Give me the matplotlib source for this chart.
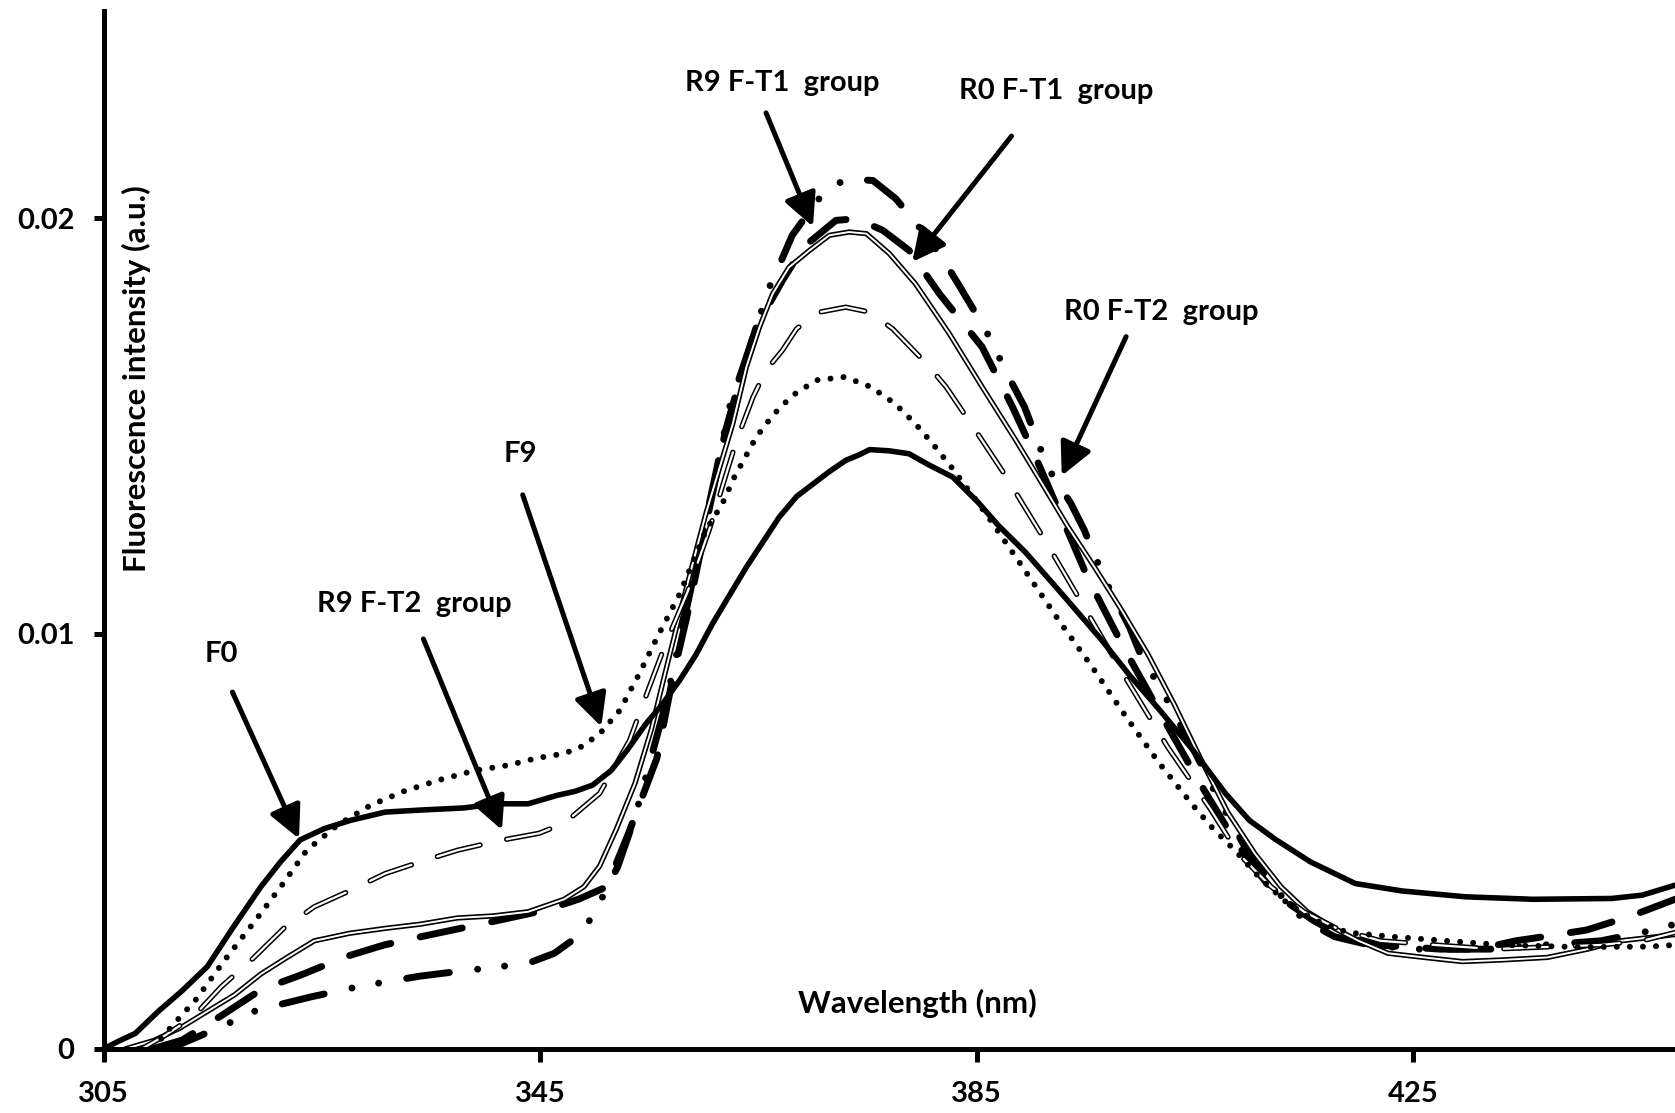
import matplotlib
matplotlib.use("Agg")
import matplotlib.pyplot as plt

plt.rcParams["font.family"] = ["Lato", "DejaVu Sans"]
plt.rcParams["font.weight"] = "bold"
plt.rcParams["lines.scale_dashes"] = False

# wavelength (nm) / intensity (a.u.)
f0_x = [305, 306.5, 307.9, 310, 312.2, 314.5, 316.8, 319.4, 321.2, 323, 325.2, 327.6, 330.8, 334.1,
        338, 341, 343.9, 346.5, 348.2, 349.8, 351.5, 353, 354.7, 356.2, 357.8, 359.3, 360.8, 362.3,
        363.9, 365.4, 366.9, 368.5, 370, 371.5, 373, 374.2, 375.2, 377, 378.8, 380.7, 382.8, 385.1,
        387, 389.5, 393, 396.5, 399, 401.7, 404.8, 407.8, 410, 412.4, 415.6, 419.7, 424, 429.8, 436,
        443.2, 446, 449]
f0_y = [0.0, 0.0002, 0.00037, 0.0009, 0.0014, 0.00198, 0.0029, 0.0039, 0.0045, 0.00503, 0.0053,
        0.0055, 0.0057, 0.00575, 0.0058, 0.0059, 0.0059, 0.0061, 0.0062, 0.00635, 0.0067, 0.0072,
        0.00783, 0.0083, 0.00888, 0.0095, 0.01024, 0.0109, 0.0116, 0.0122, 0.0128, 0.0133, 0.0136,
        0.0139, 0.01417, 0.0143, 0.01443, 0.0144, 0.01433, 0.01405, 0.01377, 0.01317, 0.0126,
        0.01195, 0.0109, 0.00983, 0.0090, 0.00818, 0.0072, 0.00615, 0.0055, 0.00504, 0.0045,
        0.00398, 0.0038, 0.00366, 0.0036, 0.00362, 0.0037, 0.00394]

f9_x = [309.5, 311.2, 313.5, 316.1, 319.4, 321.5, 323.6, 326.5, 329.5, 332.5, 335.7, 339, 342.1,
        344.7, 347.2, 349, 350.6, 352.3, 354.1, 355.9, 357.8, 360.2, 361.7, 362.8, 364.8, 366.3,
        368.1, 370.3, 372.9, 375.3, 377.5, 379.4, 381.1, 382.8, 385.9, 389.5, 392.6, 395.6, 398.7,
        401.7, 404.8, 406.6, 408.7, 411, 413.5, 416, 419, 423, 428, 433.2, 440, 446.6, 449]
f9_y = [0.0, 0.00053, 0.0012, 0.00214, 0.00326, 0.0040, 0.00478, 0.0054, 0.00587, 0.0062,
        0.00647, 0.0067, 0.00683, 0.0070, 0.00711, 0.0073, 0.00763, 0.00815, 0.00904, 0.0100,
        0.01096, 0.01249, 0.01313, 0.01377, 0.01473, 0.01525, 0.01573, 0.0161, 0.01618, 0.01594,
        0.01554, 0.01505, 0.01453, 0.01397, 0.01287, 0.01149, 0.01029, 0.00919, 0.00799, 0.00689,
        0.00587, 0.00532, 0.00477, 0.0041, 0.0035, 0.0031, 0.0028, 0.0027, 0.0026, 0.0025, 0.00245,
        0.00246, 0.0025]

r9t2_x = [308.5, 310.5, 313.2, 315.8, 318.7, 321.5, 324.3, 327.5, 330.8, 334, 337.4, 341, 344.9,
          347.2, 350.45, 353.2, 354.1, 356.5, 358.5, 360.5, 362, 363, 364.5, 365.7, 367.2, 368.5,
          370.6, 373, 375.2, 377.3, 380.4, 382.2, 384.9, 387.5, 391.3, 395, 398.7, 402.5, 406.4, 409,
          412, 415, 418, 422, 427, 432.4, 437, 442.2, 446, 449]
r9t2_y = [0.0, 0.0003, 0.00077, 0.0015, 0.00218, 0.0029, 0.00342, 0.0038, 0.00422, 0.0045,
          0.00478, 0.0050, 0.00519, 0.00543, 0.00615, 0.00743, 0.00808, 0.00976, 0.0110, 0.0125,
          0.0138, 0.01465, 0.01569, 0.01634, 0.01682, 0.01734, 0.01774, 0.01786, 0.01774, 0.01734,
          0.0165, 0.01594, 0.01489, 0.01386, 0.01223, 0.01057, 0.00891, 0.00727, 0.00578, 0.0047,
          0.0039, 0.0033, 0.0029, 0.0026, 0.0025, 0.0024, 0.00245, 0.0025, 0.0026, 0.0028]

r9t1_x = [307, 309.6, 312, 314.5, 317, 319.4, 321.8, 324.3, 327.5, 330.8, 334, 337.4, 340.7, 343.9,
          347.2, 349, 350.45, 352, 353.7, 355.2, 356.5, 358.4, 360.2, 362.65, 363.9, 365.1, 366.3,
          367.8, 369.7, 371.5, 373.3, 374.9, 377, 379.4, 382.5, 385.5, 388.6, 391, 393.3, 395.8,
          398.2, 400.7, 403.1, 405.5, 408, 410.5, 412.9, 415.3, 417.8, 420, 422.7, 426, 429.5, 433.2,
          437.3, 441, 444, 449]
r9t1_y = [0.0, 0.0002, 0.0005, 0.0009, 0.0013, 0.0018, 0.0022, 0.0026, 0.00278, 0.0029, 0.003,
          0.00315, 0.0032, 0.0033, 0.0036, 0.0039, 0.0044, 0.0053, 0.0064, 0.0077, 0.0091, 0.0111,
          0.0129, 0.01505, 0.01642, 0.01738, 0.01818, 0.01882, 0.01923, 0.01959, 0.01967, 0.01963,
          0.01915, 0.01842, 0.01722, 0.01594, 0.01465, 0.01361, 0.0126, 0.0116, 0.0106, 0.0095,
          0.0083, 0.0070, 0.0057, 0.0047, 0.0039, 0.0033, 0.0029, 0.0026, 0.0023, 0.0022, 0.0021,
          0.00214, 0.0022, 0.0024, 0.0026, 0.00275]

r0t1_x = [309.5, 312.2, 315.8, 319.4, 323.3, 327.2, 330.7, 334.1, 337.7, 341.3, 345.5, 348.5, 351.1,
          353.1, 355.7, 357.2, 358.7, 360.5, 362, 363.3, 364.8, 367.2, 369.1, 372.1, 374, 376.4,
          378.8, 381.6, 385.5, 388.3, 390.4, 392.8, 395.2, 398.5, 402, 405.5, 408, 410, 412.5, 415.8,
          418.5, 421.7, 427.5, 431, 434.4, 437, 440.9, 445, 449]
r0t1_y = [0.0, 0.00021, 0.0008, 0.00142, 0.0018, 0.00222, 0.0025, 0.0027, 0.0029, 0.0031, 0.00334,
          0.0036, 0.0039, 0.00519, 0.0070, 0.0090, 0.0107, 0.0130, 0.0149, 0.0161, 0.01738, 0.0185,
          0.0193, 0.01995, 0.01999, 0.01971, 0.01923, 0.01818, 0.0169, 0.01545, 0.01425, 0.0128,
          0.01133, 0.00965, 0.0080, 0.00638, 0.0053, 0.0045, 0.0037, 0.0031, 0.0027, 0.0025, 0.0024,
          0.0024, 0.0026, 0.0027, 0.00286, 0.0032, 0.0036]

r0t2_x = [310.5, 312.2, 315.5, 319.05, 324, 327.5, 330.8, 334, 337.4, 340.7, 343.9, 346.3, 348.2,
          349.8, 352.1, 353.7, 355.35, 356.5, 358.5, 361.1, 362.35, 363.9, 365.1, 366, 367.1, 368.1,
          369.5, 370.9, 373, 375.5, 377.6, 380.35, 382, 383.4, 385.85, 388.1, 389.4, 391.5, 393.6,
          394.85, 396.75, 399, 400, 402.5, 404.8, 407, 409.5, 412.5, 415, 417.8, 421, 425, 432.4, 437,
          442.2, 446, 449]
r0t2_y = [0.0, 0.00013, 0.0005, 0.00093, 0.00125, 0.00145, 0.00161, 0.00175, 0.00186, 0.00196,
          0.00206, 0.0023, 0.00266, 0.00318, 0.00438, 0.00559, 0.00719, 0.0083, 0.0107, 0.01386,
          0.01545, 0.01666, 0.01762, 0.01834, 0.01898, 0.01959, 0.0201, 0.02059, 0.02095, 0.02091,
          0.02047, 0.01959, 0.01898, 0.01838, 0.0173, 0.0161, 0.01545, 0.0140, 0.01315, 0.0125,
          0.0113, 0.01016, 0.00951, 0.00838, 0.00725, 0.0061, 0.0049, 0.0038, 0.0031, 0.0027, 0.0025,
          0.0024, 0.0024, 0.0025, 0.0026, 0.0028, 0.0030]

x_ticks = [305, 345, 385, 425]
y_ticks = [0, 0.01, 0.02]
y_tick_labels = ["0", "0.01", "0.02"]

# label text, text position, arrow tail, arrow head
notes = [
    ("R9 F-T1  group", (367.2, 0.02327), (365.7, 0.02254), (370.0, 0.0198)),
    ("R0 F-T1  group", (392.3, 0.02306), (388.2, 0.02198), (379.1, 0.01895)),
    ("R0 F-T2  group", (401.9, 0.01774), (398.7, 0.01715), (392.8, 0.0138)),
    ("F9", (343.2, 0.01432), (343.4, 0.01334), (350.6, 0.00776)),
    ("R9 F-T2  group", (333.5, 0.0107), (334.3, 0.00987), (341.5, 0.00527)),
    ("F0", (315.8, 0.00951), (316.8, 0.00859), (322.9, 0.00506)),
]

fig = plt.figure(figsize=(16.75, 11.13), dpi=100)
ax = fig.add_axes([0.0619, 0.0577, 0.9381, 0.9327])

# R0 F-T2: thick dash-dot-dot
ax.plot(r0t2_x, r0t2_y, color="black", lw=5, dash_capstyle="round",
        linestyle=(0, (31, 20.5, 0.01, 19.5, 0.01, 20.5)))
# R0 F-T1: thick long dash
ax.plot(r0t1_x, r0t1_y, color="black", lw=5, dash_capstyle="round", linestyle=(0, (31, 21.6)))
# R9 F-T1: double solid
ax.plot(r9t1_x, r9t1_y, color="black", lw=3.8, solid_capstyle="round", solid_joinstyle="round")
ax.plot(r9t1_x, r9t1_y, color="white", lw=1.4, solid_capstyle="round", solid_joinstyle="round")
# R9 F-T2: double dashed
ax.plot(r9t2_x, r9t2_y, color="black", lw=3.8, dash_capstyle="round", linestyle=(0, (32, 19.5)))
ax.plot(r9t2_x, r9t2_y, color="white", lw=1.6, dash_capstyle="round", linestyle=(0, (32, 19.5)))
# F9: round dots
ax.plot(f9_x, f9_y, color="black", lw=4.3, dash_capstyle="round", linestyle=(0, (0.01, 9.4)))
# F0: thick solid
ax.plot(f0_x, f0_y, color="black", lw=4.0, solid_capstyle="round", solid_joinstyle="round")

for text, tpos, tail, head in notes:
    ax.text(tpos[0], tpos[1], text, ha="center", va="center", fontsize=21, fontweight="bold")
    ax.annotate("", xy=head, xytext=tail,
                arrowprops=dict(arrowstyle="-|>,head_length=0.9,head_width=0.45", color="black",
                                lw=3.6, shrinkA=0, shrinkB=0, mutation_scale=22))

ax.text(379.6, 0.00108, "Wavelength (nm)", ha="center", va="center", fontsize=22.5, fontweight="bold")
ax.text(307.97, 0.01614, "Fluorescence intensity (a.u.)", ha="center", va="center", rotation=90,
        fontsize=22.5, fontweight="bold")

ax.set_xlim(305, 449)
ax.set_ylim(0, 0.025)
ax.set_xticks(x_ticks)
ax.set_xticklabels([str(t) for t in x_ticks])
ax.set_yticks(y_ticks)
ax.set_yticklabels(y_tick_labels)
for side in ["top", "right"]:
    ax.spines[side].set_visible(False)
for side in ["left", "bottom"]:
    ax.spines[side].set_linewidth(3.6)
ax.tick_params(axis="x", direction="out", length=9, width=3.6, labelsize=21, pad=14)
ax.tick_params(axis="y", direction="out", length=7, width=3.6, labelsize=21, pad=14)
for lab in ax.get_xticklabels() + ax.get_yticklabels():
    lab.set_fontweight("bold")

fig.savefig("out.png", dpi=100)
